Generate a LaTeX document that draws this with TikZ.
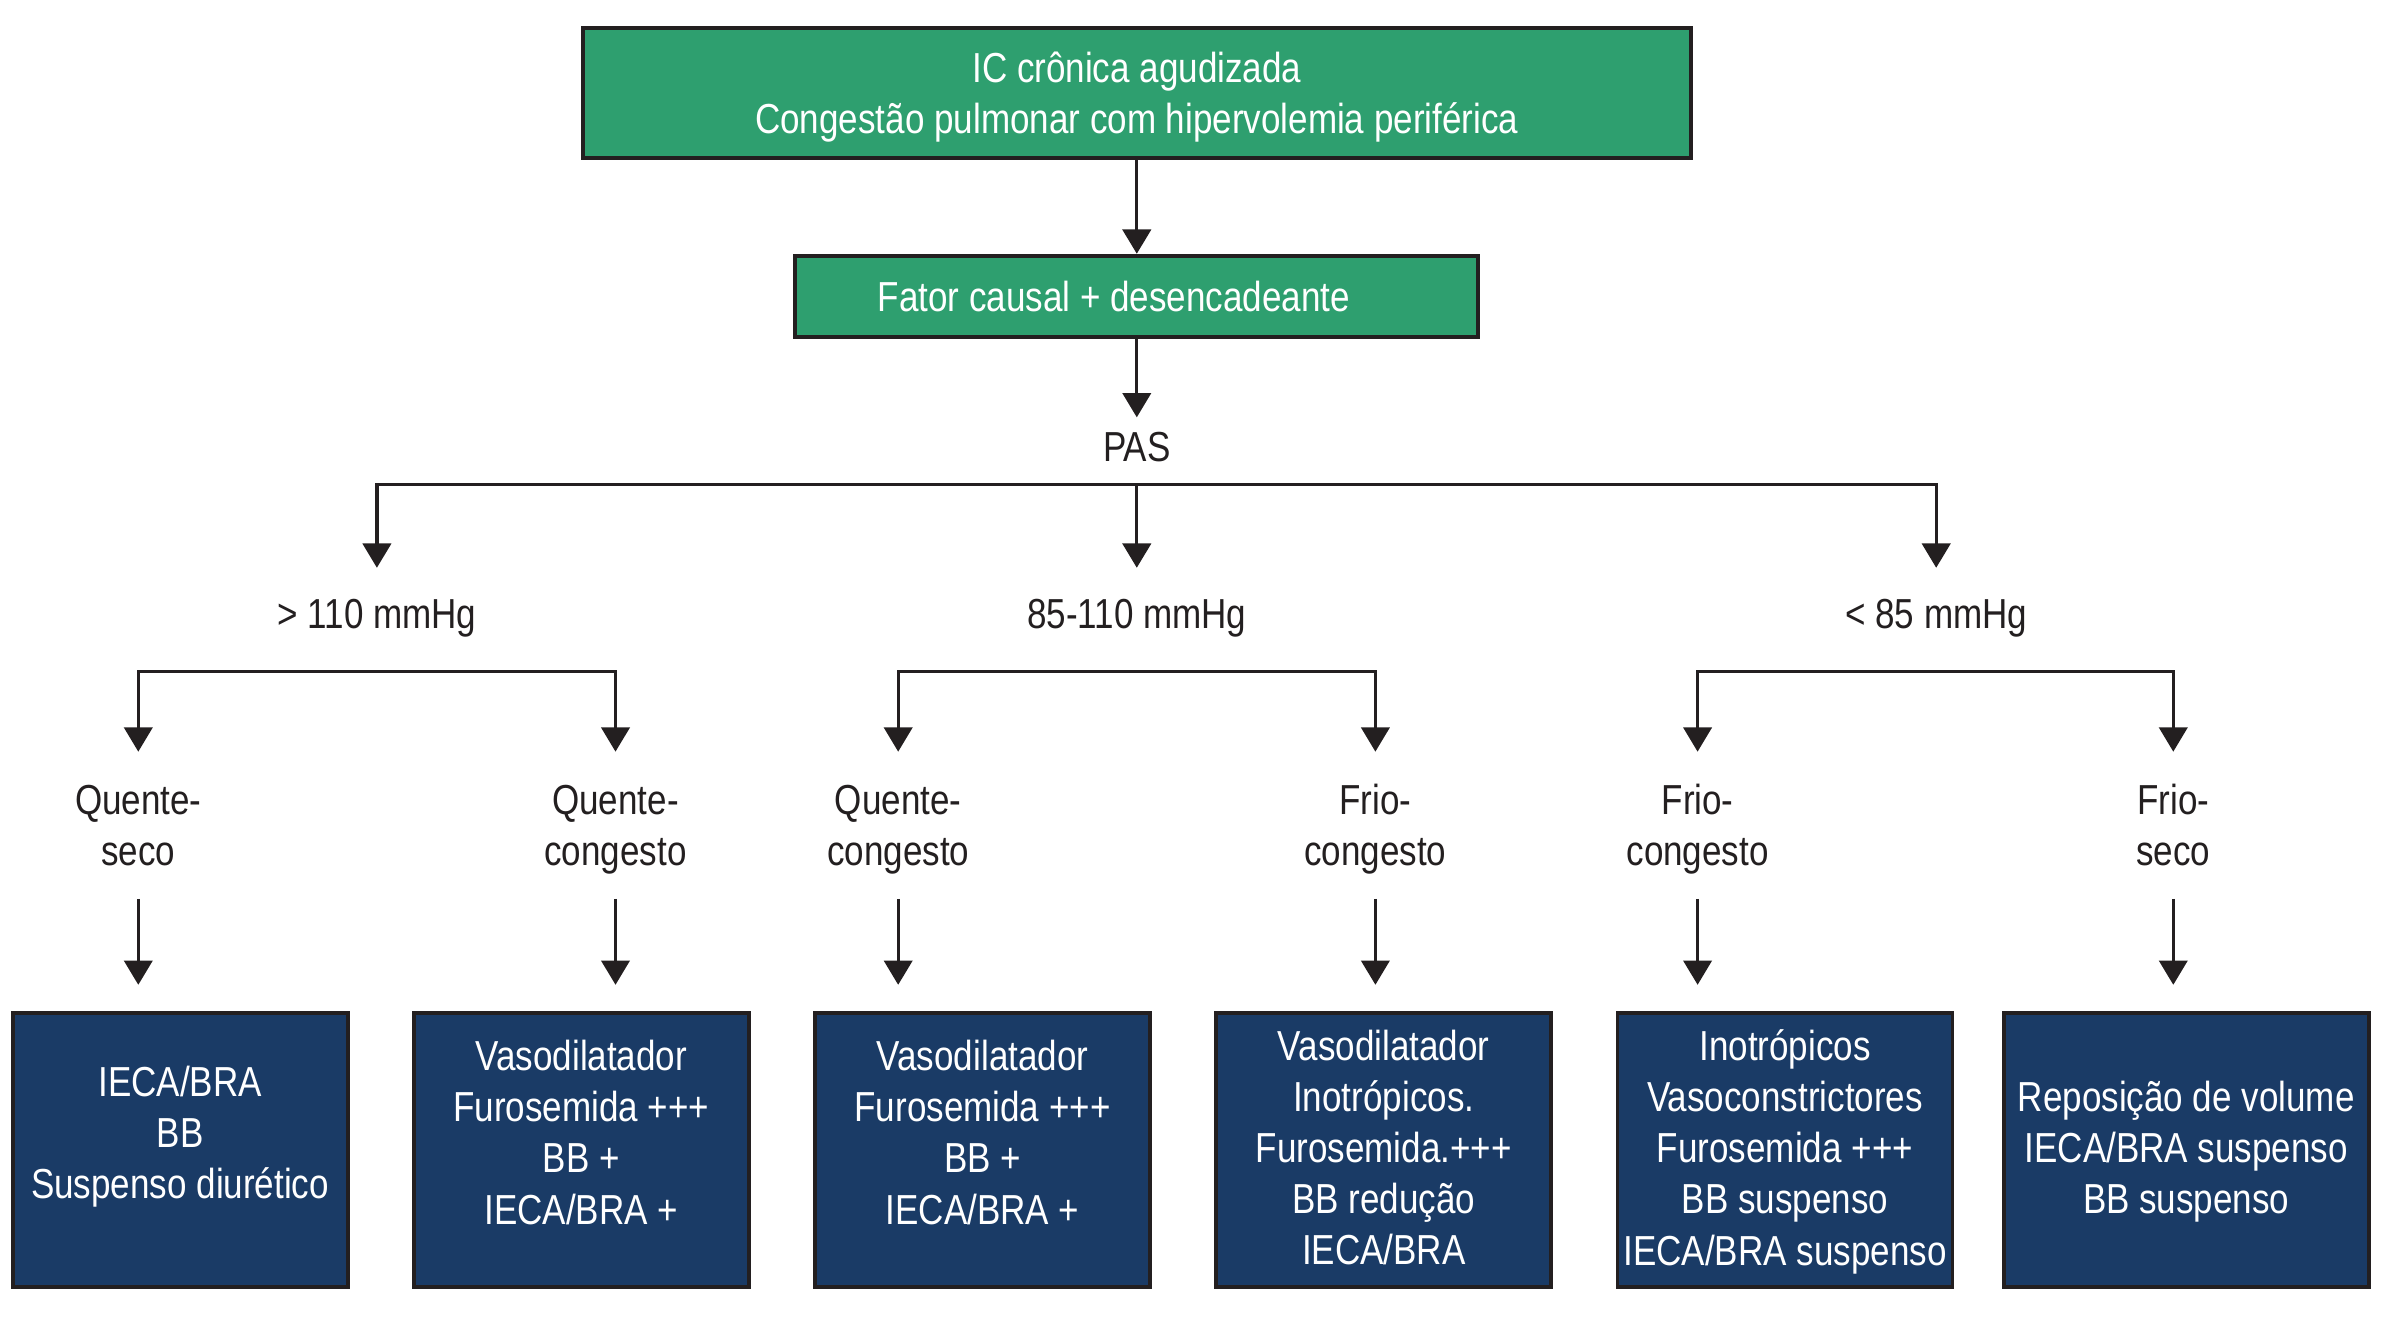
\documentclass[tikz,border=0pt]{standalone}
\usepackage{fontspec}
\setmainfont{Liberation Sans}[FakeStretch=0.835]
\usetikzlibrary{arrows.meta}
\definecolor{ink}{HTML}{231F20}
\definecolor{boxgreen}{HTML}{2E9F6F}
\definecolor{boxnavy}{HTML}{1A3B66}
\newcommand{\fs}{\fontsize{13.8pt}{16.8pt}\selectfont}
\tikzset{
  greenbox/.style={draw=ink, line width=1.3pt, fill=boxgreen, text=white, font=\fs, align=center, inner sep=0pt, text depth=0pt},
  navybox/.style={draw=ink, line width=1.3pt, fill=boxnavy, inner sep=0pt, minimum width=110.2pt, minimum height=90.2pt},
  boxtext/.style={text=white, font=\fs, align=center, inner sep=0pt, text depth=0pt},
  lab/.style={font=\fs, text=ink, align=center, inner sep=0pt, text depth=0pt},
  onelab/.style={lab},
  conn/.style={draw=ink, line width=1.1pt},
  arr/.style={conn, -{Triangle[width=9.3pt,length=8pt]}},
}
\begin{document}
\begin{tikzpicture}[x=0.5pt, y=-0.5pt]
\useasboundingbox (0,0) rectangle (1568,872.5);

% top boxes
\node[greenbox, minimum width=364.7pt, minimum height=42.7pt] (top) at (748,61)
  {IC crônica agudizada\\Congestão pulmonar com hipervolemia periférica};
\node[greenbox, minimum width=224.7pt, minimum height=26.7pt] (fator) at (748,195)
  {Fator causal + desencadeante\kern15pt};
\node[onelab, minimum height=19pt] (pas) at (748,294) {PAS};

\draw[arr] (top.south) -- (fator.north);
\draw[arr] (fator.south) -- (pas.north);

% PAS levels
\node[onelab, minimum height=30pt] (p1) at (248,404) {> 110 mmHg};
\node[onelab, minimum height=30pt] (p2) at (748,404) {85-110 mmHg};
\node[onelab, minimum height=30pt] (p3) at (1274,404) {< 85 mmHg};

\coordinate (hmid) at (748,319);
\draw[arr] (hmid) -| (p1.north);
\draw[arr] (hmid) -- (p2.north);
\draw[arr] (hmid) -| (p3.north);

% profiles
\node[lab, minimum height=48pt] (q1) at (91,543)   {Quente-\\seco};
\node[lab, minimum height=48pt] (q2) at (405,543)  {Quente-\\congesto};
\node[lab, minimum height=48pt] (q3) at (591,543)  {Quente-\\congesto};
\node[lab, minimum height=48pt] (q4) at (905,543)  {Frio-\\congesto};
\node[lab, minimum height=48pt] (q5) at (1117,543) {Frio-\\congesto};
\node[lab, minimum height=48pt] (q6) at (1430,543) {Frio-\\seco};

\coordinate (m1) at (248,442);
\coordinate (m2) at (748,442);
\coordinate (m3) at (1273.5,442);
\draw[arr] (m1) -| (q1.north);
\draw[arr] (m1) -| (q2.north);
\draw[arr] (m2) -| (q3.north);
\draw[arr] (m2) -| (q4.north);
\draw[arr] (m3) -| (q5.north);
\draw[arr] (m3) -| (q6.north);

% treatment boxes
\node[navybox] (b1) at (118.5,756.5) {};
\node[navybox] (b2) at (382.5,756.5) {};
\node[navybox] (b3) at (646.5,756.5) {};
\node[navybox] (b4) at (910.5,756.5) {};
\node[navybox] (b5) at (1174.5,756.5) {};
\node[navybox, minimum width=120.2pt] (b6) at (1438.5,756.5) {};

\node[boxtext] at ([yshift=5.75pt]b1.center) {IECA/BRA\\BB\\Suspenso diurético};
\node[boxtext] at ([yshift=5.75pt]b2.center) {Vasodilatador\\Furosemida +++\\BB +\\IECA/BRA +};
\node[boxtext] at ([yshift=5.75pt]b3.center) {Vasodilatador\\Furosemida +++\\BB +\\IECA/BRA +};
\node[boxtext] at ([yshift=0.75pt]b4.center) {Vasodilatador\\Inotrópicos.\\Furosemida.+++\\BB redução\\IECA/BRA};
\node[boxtext] at ([yshift=0.75pt]b5.center) {Inotrópicos\\Vasoconstrictores\\Furosemida +++\\BB suspenso\\IECA/BRA suspenso};
\node[boxtext] at ([yshift=0.75pt]b6.center) {Reposição de volume\\IECA/BRA suspenso\\BB suspenso};

\draw[arr, shorten >=8.5pt] (q1.south) -- (q1.south |- b1.north);
\draw[arr, shorten >=8.5pt] (q2.south) -- (q2.south |- b2.north);
\draw[arr, shorten >=8.5pt] (q3.south) -- (q3.south |- b3.north);
\draw[arr, shorten >=8.5pt] (q4.south) -- (q4.south |- b4.north);
\draw[arr, shorten >=8.5pt] (q5.south) -- (q5.south |- b5.north);
\draw[arr, shorten >=8.5pt] (q6.south) -- (q6.south |- b6.north);
\end{tikzpicture}
\end{document}
